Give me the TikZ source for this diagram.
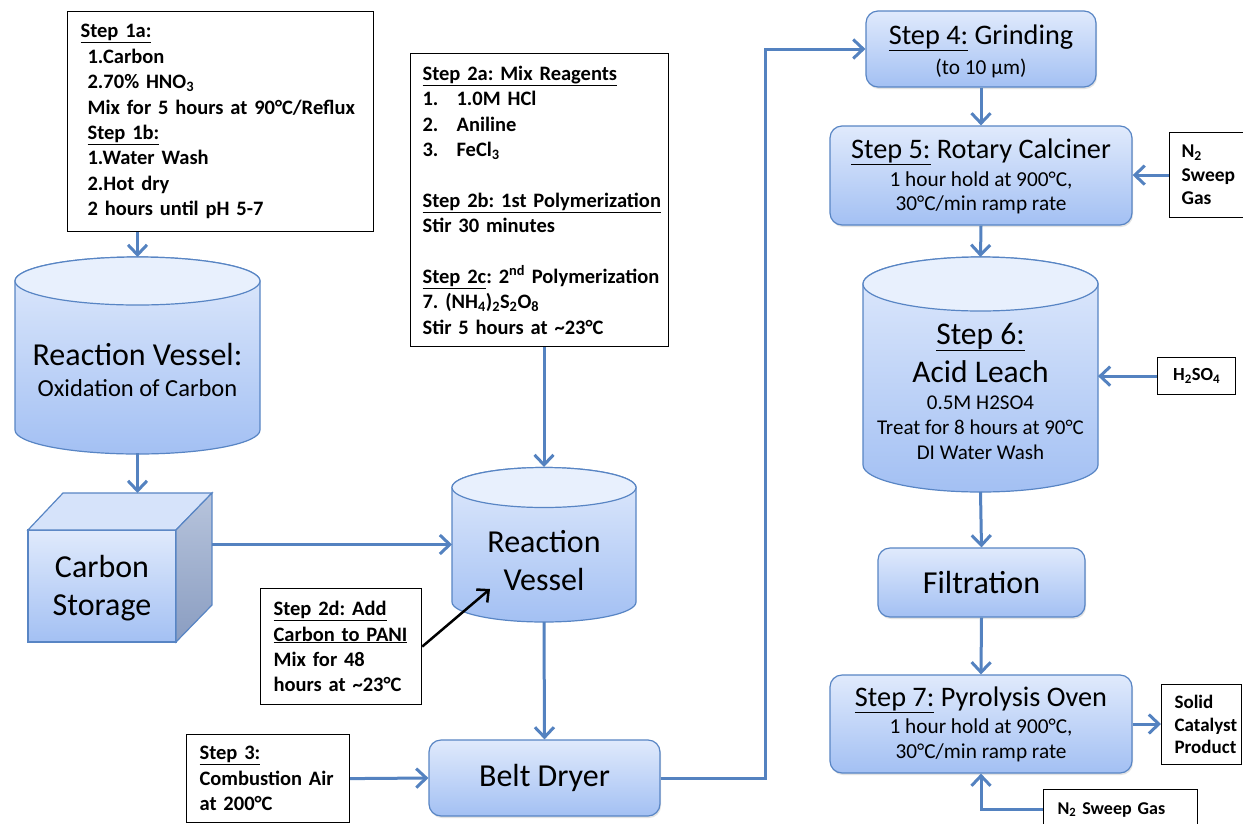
\documentclass[tikz,border=0pt]{standalone}
\usepackage{fontspec}
\setmainfont{Carlito}
\usetikzlibrary{arrows.meta,calc,shadows}
\definecolor{fillTop}{RGB}{224,234,252}
\definecolor{fillBot}{RGB}{163,192,243}
\definecolor{cylTop}{RGB}{232,240,253}
\definecolor{boxBorder}{RGB}{88,133,196}
\definecolor{lineBlue}{RGB}{84,130,192}
\definecolor{cubeTopC}{RGB}{214,227,250}
\definecolor{sideTop}{RGB}{183,196,220}
\definecolor{sideBot}{RGB}{138,157,193}
\newcommand\mycyl[5]{% cx, rx, ytop, ybot, ry
  \path[draw=boxBorder, line width=1.2pt, top color=fillTop, bottom color=fillBot]
    (#1-#2,#3) -- (#1-#2,#4) arc[start angle=180, end angle=360, x radius=#2pt, y radius=#5pt]
    -- (#1+#2,#3) arc[start angle=0, end angle=180, x radius=#2pt, y radius=#5pt] -- cycle;
  \path[draw=boxBorder, line width=1.2pt, fill=cylTop] (#1,#3) ellipse [x radius=#2pt, y radius=#5pt];
}
\frenchspacing
\begin{document}
\frenchspacing
\begin{tikzpicture}[x=1pt,y=-1pt,
  note/.style={draw=black, line width=1.2pt, fill=white, anchor=north west, align=left, inner ysep=0pt, font=\bfseries\fontsize{20.5}{25.4}\selectfont},
  rbox/.style={draw=boxBorder, line width=1.2pt, rounded corners=12pt, top color=fillTop, bottom color=fillBot, inner sep=0pt, drop shadow={opacity=0.22, shadow xshift=1pt, shadow yshift=-2pt}},
  zone/.style={inner sep=0pt, outer sep=0pt},
  lbl/.style={inner sep=0pt, align=center},
  conn/.style={draw=lineBlue, line width=3pt, -{Straight Barb[length=10pt,width=19pt]}},
  blk/.style={draw=black, line width=2.5pt, -{Straight Barb[length=9pt,width=17pt]}},
]
\useasboundingbox (0,0) rectangle (1243,823);
\fill[white] (0,0) rectangle (1243,823);

% ---------- Step 1a box
\node[note, inner xsep=13pt, text width=280pt, minimum height=220pt] (s1) at (67,11) {%
\underline{Step 1a:}\\
\hspace*{7pt}1.Carbon\\
\hspace*{7pt}2.70\% HNO\textsubscript{3}\\
\mbox{\hspace*{7pt}Mix for 5 hours at 90°C/Reflux}\\
\hspace*{7pt}\underline{Step 1b:}\\
\hspace*{7pt}1.Water Wash\\
\hspace*{7pt}2.Hot dry\\
\hspace*{7pt}2 hours until pH 5-7};

% ---------- Reaction vessel 1
\mycyl{137.5}{122.5}{281}{430}{24}
\node[zone, minimum width=245pt, minimum height=196pt] (cyl1) at (137.5,355) {};
\node[lbl, font=\fontsize{32}{32}\selectfont] (cyl1a) at (137.5,355) {Reaction Vessel:};
\node[lbl, font=\fontsize{24.5}{24.5}\selectfont] (cyl1b) at (137.5,388) {Oxidation of Carbon};

% ---------- Carbon storage cube
\path[draw=boxBorder, line width=1.2pt, top color=fillTop, bottom color=fillBot] (28,530) rectangle (176,642);
\path[draw=boxBorder, line width=1.2pt, fill=cubeTopC] (28,530) -- (63,493) -- (212,493) -- (176,530) -- cycle;
\path[draw=boxBorder, line width=1.2pt, top color=sideTop, bottom color=sideBot] (176,530) -- (212,493) -- (212,605) -- (176,642) -- cycle;
\node[zone, minimum width=184pt, minimum height=149pt] (cube) at (120,567.5) {};
\node[lbl, font=\fontsize{32}{38}\selectfont] (cubet) at (102,588) {Carbon\\Storage};

% ---------- Step 2a box
\node[note, inner xsep=12pt, text width=234pt, minimum height=293pt] (s2) at (410,53) {%
\underline{Step 2a: Mix Reagents}\\
\makebox[34pt][l]{1.}1.0M HCl\\
\makebox[34pt][l]{2.}Aniline\\
\makebox[34pt][l]{3.}FeCl\textsubscript{3}\\
~\\
\mbox{\underline{Step 2b: 1st Polymerization}}\\
Stir 30 minutes\\
~\\
\mbox{\underline{Step 2c}: 2\textsuperscript{nd} Polymerization}\\
7. (NH\textsubscript{4})\textsubscript{2}S\textsubscript{2}O\textsubscript{8}\\
Stir 5 hours at \textasciitilde23°C};

% ---------- Reaction vessel 2
\mycyl{544}{92}{487.5}{602}{20}
\node[zone, minimum width=184pt, minimum height=155pt] (cyl2) at (544,544.5) {};
\node[lbl, font=\fontsize{32}{38}\selectfont] (cyl2t) at (544,561) {Reaction\\Vessel};

% ---------- Step 2d box
\node[note, inner xsep=13pt, text width=135pt, minimum height=116pt] (s2d) at (260,588) {%
\mbox{\underline{Step 2d: Add}}\\
\mbox{\underline{Carbon to PANI}}\\
Mix for 48\\
\mbox{hours at \textasciitilde23°C}};

% ---------- Belt dryer
\node[rbox, minimum width=231pt, minimum height=76pt, font=\fontsize{32}{32}\selectfont] (belt) at (544.5,778) {Belt Dryer};

% ---------- Step 3 box
\node[note, inner xsep=13pt, text width=137pt, minimum height=88pt] (s3) at (186,734) {%
\underline{Step 3:}\\
\mbox{Combustion Air}\\
at 200°C};

% ---------- Step 4
\node[rbox, minimum width=230pt, minimum height=76pt] (g4) at (981,49) {};
\node[lbl, font=\fontsize{28.3}{28.3}\selectfont] (g4a) at (981,38) {\underline{Step 4:} Grinding};
\node[lbl, font=\fontsize{21.3}{21.3}\selectfont] (g4b) at (981,68) {(to 10 μm)};

% ---------- Step 5
\node[rbox, minimum width=302pt, minimum height=99pt] (s5) at (981,175.5) {};
\node[lbl, font=\fontsize{28.3}{28.3}\selectfont] (s5a) at (981,152) {\underline{Step 5:} Rotary Calciner};
\node[lbl, font=\fontsize{21.3}{24.5}\selectfont] (s5b) at (981,193) {1 hour hold at 900°C,\\30°C/min ramp rate};

% ---------- N2 sweep gas (top)
\node[note, font=\bfseries\fontsize{19.5}{23.5}\selectfont, inner xsep=12pt, text width=66pt, minimum height=85pt] (n2a) at (1169,132) {%
N\textsubscript{2}\\Sweep\\Gas};

% ---------- Step 6 acid leach
\mycyl{980.5}{117.5}{284}{465}{27}
\node[zone, minimum width=235pt, minimum height=235pt] (cyl3) at (980.5,374.5) {};
\node[lbl, font=\fontsize{31.5}{31.5}\selectfont] (cyl3a) at (980.5,337) {\underline{Step 6:}};
\node[lbl, font=\fontsize{31.5}{31.5}\selectfont] (cyl3b) at (980.5,372) {Acid Leach};
\node[lbl, font=\fontsize{21}{25}\selectfont] (cyl3c) at (980.5,428) {0.5M H2SO4\\Treat for 8 hours at 90°C\\DI Water Wash};

% ---------- H2SO4 box
\node[note, font=\bfseries\fontsize{18.5}{20}\selectfont, align=center, inner xsep=0pt, minimum width=78pt, minimum height=37pt] (h2) at (1157,357) {H\textsubscript{2}SO\textsubscript{4}};

% ---------- Filtration
\node[rbox, minimum width=207pt, minimum height=69pt, font=\fontsize{32}{32}\selectfont] (filt) at (981.5,582.5) {Filtration};

% ---------- Step 7
\node[rbox, minimum width=302pt, minimum height=98pt] (s7) at (981,724) {};
\node[lbl, font=\fontsize{28.3}{28.3}\selectfont] (s7a) at (981,700) {\underline{Step 7:} Pyrolysis Oven};
\node[lbl, font=\fontsize{21.3}{24.5}\selectfont] (s7b) at (981,740.5) {1 hour hold at 900°C,\\30°C/min ramp rate};

% ---------- Solid catalyst product
\node[note, font=\bfseries\fontsize{19}{22.5}\selectfont, inner xsep=13pt, text width=54pt, minimum height=80pt] (sc) at (1161,684) {%
Solid\\\mbox{Catalyst}\\\mbox{Product}};

% ---------- N2 sweep gas (bottom)
\node[note, font=\bfseries\fontsize{18}{20}\selectfont, inner xsep=14pt, text width=126pt, minimum height=40pt] (n2b) at (1043,789) {%
N\textsubscript{2} Sweep Gas};

% ---------- connectors
\draw[conn] (cyl1.north |- s1.south) -- (cyl1.north);
\draw[conn] (cyl1.south) -- (cyl1.south |- cube.north);
\draw[conn] (cube.east |- cyl2.west) -- (cyl2.west);
\draw[conn] (cyl2.north |- s2.south) -- (cyl2.north);
\draw[blk] (s2d.east) -- ($(cyl2.center)+(-54,44.5)$);
\draw[conn] (cyl2.south) -- (belt.north);
\draw[conn] (s3.east) -- (belt.west);
\draw[conn] (belt.east) -- ++(105,0) |- (g4.west);
\draw[conn] (g4.south) -- (s5.north);
\draw[conn] (n2a.west) -- (n2a.west -| s5.east);
\draw[conn] (s5.south) -- (cyl3.north);
\draw[conn] (h2.west) -- (h2.west -| cyl3.east);
\draw[conn] (cyl3.south) -- (filt.north);
\draw[conn] (filt.south) -- (s7.north);
\draw[conn] (s7.east) -- (s7.east -| sc.west);
\draw[conn] (n2b.west) -| (s7.south);
\end{tikzpicture}
\end{document}
